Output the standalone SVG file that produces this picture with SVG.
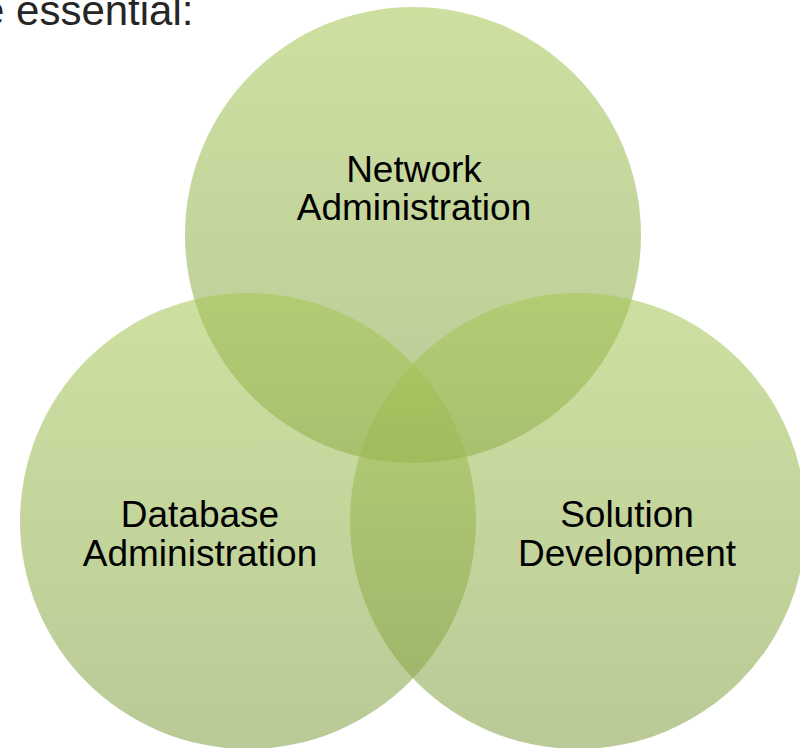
<svg xmlns="http://www.w3.org/2000/svg" width="800" height="748" viewBox="0 0 800 748">
<defs>
<linearGradient id="g" x1="0" y1="0" x2="0" y2="1">
<stop offset="0" stop-color="#A6C856"/>
<stop offset="1" stop-color="#84A046"/>
</linearGradient>
<style>
.c{fill:url(#g);fill-opacity:0.56}
.t{font-family:"Liberation Sans",Arial,sans-serif;font-size:37px;fill:#000;text-anchor:middle}
.h{font-family:"Liberation Sans",Arial,sans-serif;font-size:42px;fill:#262626}
</style>
</defs>
<rect width="800" height="748" fill="#fff"/>
<text class="h" x="-19" y="25">e essential:</text>
<g id="network">
<circle class="c" cx="413" cy="235" r="228"/>
<text class="t" x="414" y="182">Network</text>
<text class="t" x="414" y="220">Administration</text>
</g>
<g id="database">
<circle class="c" cx="248" cy="521" r="228"/>
<text class="t" x="200" y="527">Database</text>
<text class="t" x="200" y="566">Administration</text>
</g>
<g id="solution">
<circle class="c" cx="578" cy="521" r="228"/>
<text class="t" x="627" y="527">Solution</text>
<text class="t" x="627" y="566">Development</text>
</g>
<g id="connectors"/>
</svg>
